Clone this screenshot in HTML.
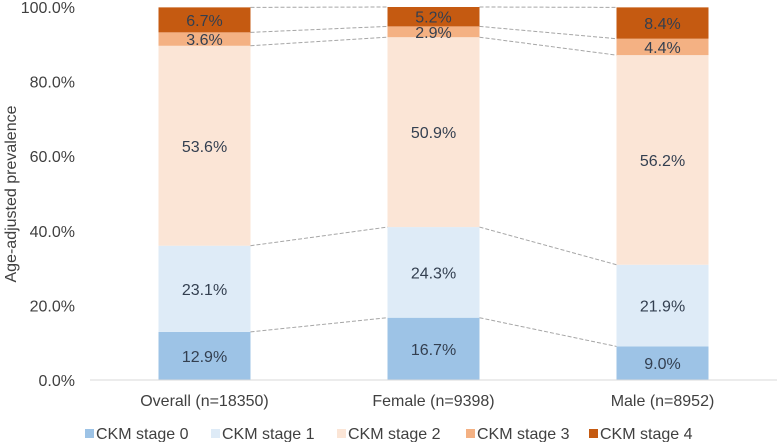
<!DOCTYPE html>
<html><head><meta charset="utf-8"><style>
body{margin:0;background:#fff}
svg{display:block;font-family:"Liberation Sans",sans-serif}
</style></head><body>
<svg id="chart" width="778" height="442">
<g id="grid"></g><g id="links"></g><g id="bars"></g><g id="axes"></g><g id="legend"></g>
</svg>
<script>
const categories=["Overall (n=18350)","Female (n=9398)","Male (n=8952)"];
const stage0=[12.9,16.7,9.0];
const stage1=[23.1,24.3,21.9];
const stage2=[53.6,50.9,56.2];
const stage3=[3.6,2.9,4.4];
const stage4=[6.7,5.2,8.4];
const seriesNames=["CKM stage 0","CKM stage 1","CKM stage 2","CKM stage 3","CKM stage 4"];
const yTicks=[0,20,40,60,80,100];
const series=[stage0,stage1,stage2,stage3,stage4];
const colors=["#9dc3e6","#deebf7","#fbe5d6","#f4b183","#c55a11"];
const NS="http://www.w3.org/2000/svg";
const x0=90,x1=777,yb=380,yt=7,barW=92;
const band=(x1-x0)/categories.length;
const xc=i=>x0+band*(i+0.5);
const y=v=>yb-(v/100)*(yb-yt);
function mk(tag,attrs,parent,text){const e=document.createElementNS(NS,tag);for(const k in attrs)e.setAttribute(k,attrs[k]);if(text!==undefined)e.textContent=text;document.getElementById(parent).appendChild(e);return e;}
yTicks.forEach(t=>{
 const e=mk("text",{x:75,y:y(t)+6,"text-anchor":"end","font-size":16,fill:"#404040"},"axes",t.toFixed(1)+"%");
 
 
});
const ax=mk("line",{x1:x0,x2:x1,y1:yb,y2:yb,stroke:"#d9d9d9","stroke-width":1},"axes");


const yt2=mk("text",{transform:"translate(16,194) rotate(-90)","text-anchor":"middle","font-size":16,fill:"#404040"},"axes","Age-adjusted prevalence");


const cum=categories.map(()=>[0]);
categories.forEach((c,i)=>{let s=0;series.forEach(sr=>{s+=sr[i];cum[i].push(s);});});
categories.forEach((c,i)=>{
 series.forEach((sr,k)=>{
  const top=y(cum[i][k+1]),bot=y(cum[i][k]);
  const r=mk("rect",{x:xc(i)-barW/2,y:top,width:barW,height:bot-top,fill:colors[k]},"bars");
  
  
  const t=mk("text",{x:xc(i),y:(top+bot)/2+6,"text-anchor":"middle","font-size":16,fill:"#333f50"},"bars",sr[i].toFixed(1)+"%");
  
  
 });
 const l=mk("text",{x:xc(i),y:406,"text-anchor":"middle","font-size":16,fill:"#404040"},"axes",c);
 
 
});
for(let i=0;i<categories.length-1;i++){
 for(let k=1;k<=series.length;k++){
  const ln=mk("line",{x1:xc(i)+barW/2,x2:xc(i+1)-barW/2,y1:y(cum[i][k]),y2:y(cum[i+1][k]),stroke:"#a6a6a6","stroke-dasharray":"4,2","stroke-width":1},"links");
  
  
 }
}
const lx=[85,211,337,466,589];
seriesNames.forEach((n,k)=>{
 const r=mk("rect",{x:lx[k],y:429,width:9,height:9,fill:colors[k]},"legend");
 
 
 const t=mk("text",{x:lx[k]+11,y:439,"font-size":16,fill:"#404040"},"legend",n);
 
 
});
</script>
</body></html>
